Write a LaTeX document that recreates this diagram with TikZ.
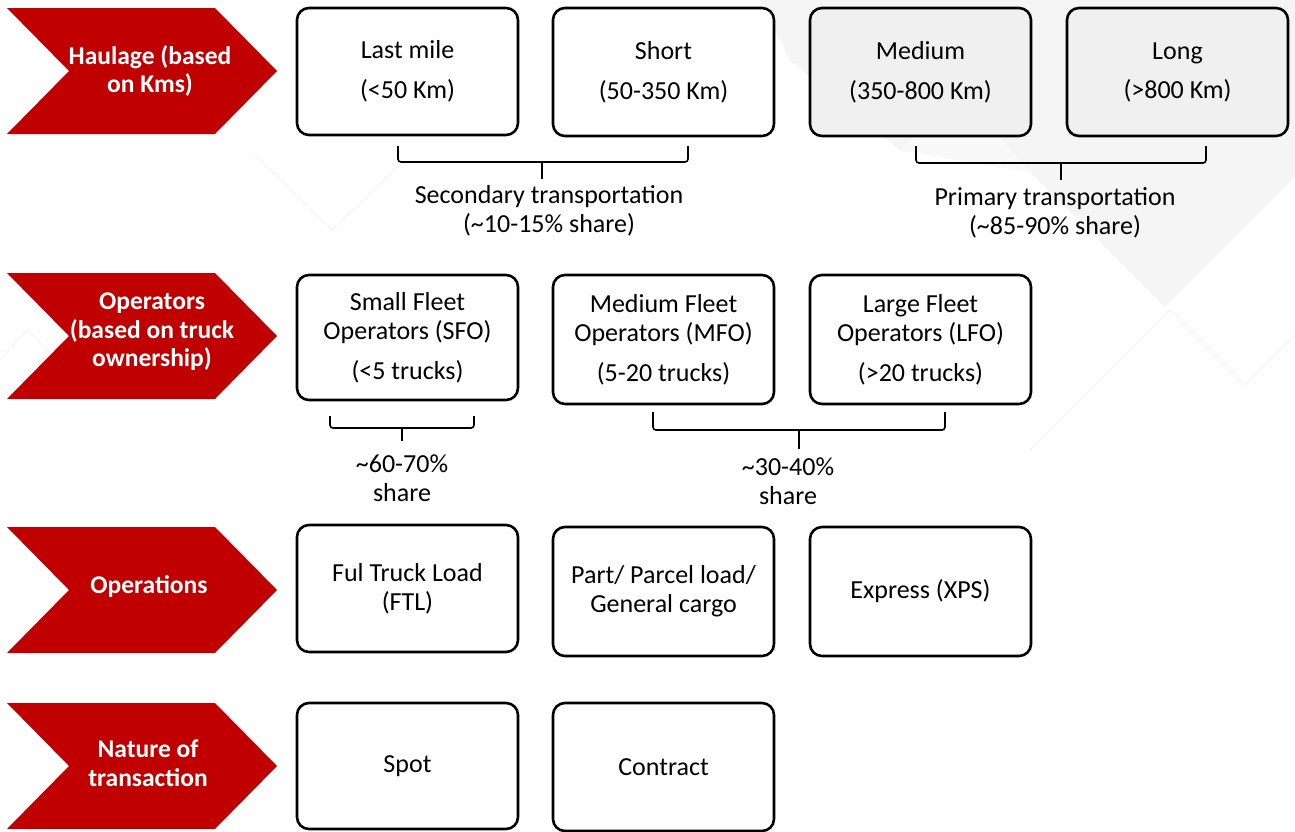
\documentclass[tikz,border=0pt]{standalone}
\usepackage{fontspec}
\setmainfont{Carlito}
\definecolor{chevred}{HTML}{C00000}
\definecolor{bggray}{HTML}{F5F5F5}
\definecolor{boxgray}{HTML}{F0F0F0}
\definecolor{bgline}{HTML}{F2F2F2}
\begin{document}
\begin{tikzpicture}[x=1pt,y=-1pt,
  box/.style={draw=black, line width=2.6pt, rounded corners=12pt, minimum width=221pt,
    minimum height=127pt, align=center, inner sep=0pt, font=\fontsize{26}{29}\selectfont},
  chevtext/.style={text=white, align=center, font=\fontsize{25.5}{28.5}\selectfont\bfseries},
  lbl/.style={align=center, inner sep=0pt, font=\fontsize{26}{29}\selectfont},
  brk/.style={draw=black, line width=1.6pt, rounded corners=3pt},
  chevfill/.style={fill=chevred, draw=none}]
\useasboundingbox (0,0) rectangle (1295,831);
% faint background pattern
\begin{scope}
\clip (0,0) rectangle (1295,831);
\fill[bggray] (760,0) -- (1295,0) -- (1295,177) -- (1165,307) -- (1030,172) -- (900,150) -- (790,60) -- cycle;
\fill[white!40!bggray] (900,150) -- (960,90) -- (1030,172) -- cycle;
\draw[bgline, line width=0.8pt] (255,155) -- (332,230) -- (400,165);
\draw[bgline, line width=0.8pt] (0,360) -- (27,330) -- (70,372);
\draw[bgline, line width=0.8pt] (1030,450) -- (1170,310) -- (1245,385) -- (1295,335);
\draw[bgline, line width=0.8pt] (700,400) -- (760,340);
\end{scope}
% chevrons
\foreach \cy/\nm in {71/c1, 336/c2, 590/c3, 766/c4} {
  \path[chevfill] (7,\cy-63) -- (215,\cy-63) -- (277,\cy) -- (215,\cy+63) -- (7,\cy+63) -- (69,\cy) -- cycle;
}
\node[chevtext] (h1) at (150,71) {Haulage (based\\on Kms)};
\node[chevtext] (h2) at (152,332) {Operators\\(based on truck\\ownership)};
\node[chevtext] (h3) at (149,587) {Operations};
\node[chevtext] (h4) at (148,763) {Nature of\\transaction};
% row 1
\node[box, fill=white] (lm) at (407.5,71.5) {Last mile\\[11pt](<50 Km)};
\node[box, fill=white, minimum height=128pt] (sh) at (663.5,72) {Short\\[11pt](50-350 Km)};
\node[box, fill=boxgray, minimum height=128pt] (md) at (920.5,72) {Medium\\[11pt](350-800 Km)};
\node[box, fill=boxgray, minimum height=128pt] (lg) at (1177.5,72) {Long\\[10pt](>800 Km)};
% row 2
\node[box, fill=white, minimum height=125pt] (sfo) at (407.5,337.5) {Small Fleet\\Operators (SFO)\\[11pt](<5 trucks)};
\node[box, fill=white, minimum height=129pt] (mfo) at (663.5,339.5) {Medium Fleet\\Operators (MFO)\\[11pt](5-20 trucks)};
\node[box, fill=white, minimum height=129pt] (lfo) at (920.5,339.5) {Large Fleet\\Operators (LFO)\\[11pt](>20 trucks)};
% row 3
\node[box, fill=white] (ftl) at (407.5,588.5) {Ful Truck Load\\(FTL)};
\node[box, fill=white, minimum height=129pt] (ptl) at (663.5,591.5) {Part/ Parcel load/\\General cargo};
\node[box, fill=white, minimum height=129pt] (xps) at (920.5,591.5) {Express (XPS)};
% row 4
\node[box, fill=white, minimum height=126pt] (spot) at (407.5,766) {Spot};
\node[box, fill=white, minimum height=128pt] (ctr) at (663.5,767) {Contract};
% brackets
\coordinate (b1a) at (398,146); \coordinate (b1b) at (688,146); \coordinate (b1m) at (542,162); \coordinate (b1s) at (542,179);
\draw[brk] (b1a) -- (398,162) -- (688,162) -- (b1b);
\draw[brk] (b1m) -- (b1s);
\node[lbl] (t1) at (549,210.5) {Secondary transportation\\(\textasciitilde10-15\% share)};
\coordinate (b2a) at (916,146); \coordinate (b2b) at (1206,146); \coordinate (b2m) at (1061,163); \coordinate (b2s) at (1061,180);
\draw[brk] (b2a) -- (916,163) -- (1206,163) -- (b2b);
\draw[brk] (b2m) -- (b2s);
\node[lbl] (t2) at (1055,212.5) {Primary transportation\\(\textasciitilde85-90\% share)};
\coordinate (b3a) at (330,416); \coordinate (b3b) at (474,416); \coordinate (b3m) at (402,428); \coordinate (b3s) at (402,441);
\draw[brk] (b3a) -- (330,428) -- (474,428) -- (b3b);
\draw[brk] (b3m) -- (b3s);
\node[lbl] (t3) at (402,478.5) {\textasciitilde60-70\%\\share};
\coordinate (b4a) at (653,412); \coordinate (b4b) at (945,412); \coordinate (b4m) at (799,430); \coordinate (b4s) at (799,449);
\draw[brk] (b4a) -- (653,430) -- (945,430) -- (b4b);
\draw[brk] (b4m) -- (b4s);
\node[lbl] (t4) at (788,481.5) {\textasciitilde30-40\%\\share};
\end{tikzpicture}
\end{document}
